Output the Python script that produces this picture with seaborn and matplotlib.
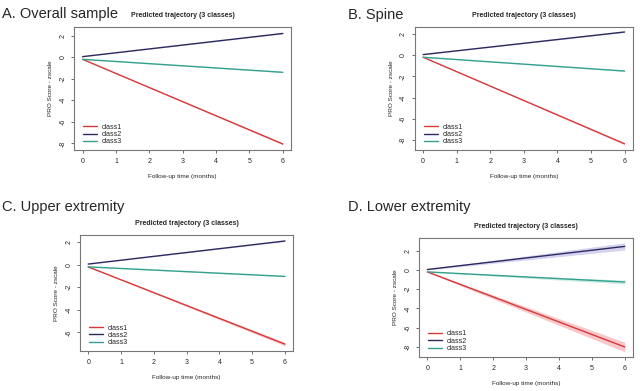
import numpy as np
import pandas as pd
import matplotlib
matplotlib.use("Agg")
import matplotlib.pyplot as plt
import seaborn as sns

# data (predicted linear trajectories, months 0 and 6)
months = [0, 6]
classes = ["class1", "class2", "class3"]
panels = ["A. Overall sample", "B. Spine", "C. Upper extremity", "D. Lower extremity"]

overall = {"class1": [-0.2, -8.05], "class2": [0.05, 2.2], "class3": [-0.2, -1.4]}
spine = {"class1": [-0.2, -8.35], "class2": [0.05, 2.18], "class3": [-0.2, -1.5]}
upper = {"class1": [-0.2, -7.03], "class2": [0.05, 2.09], "class3": [-0.2, -1.04]}
lower = {"class1": [-0.2, -8.0], "class2": [0.05, 2.45], "class3": [-0.2, -1.25]}

# half width of the confidence band at 0 and 6 months
overall_ci = {"class1": [0.02, 0.08], "class2": [0.02, 0.05], "class3": [0.02, 0.04]}
spine_ci = {"class1": [0.02, 0.08], "class2": [0.02, 0.05], "class3": [0.02, 0.04]}
upper_ci = {"class1": [0.02, 0.15], "class2": [0.02, 0.05], "class3": [0.02, 0.04]}
lower_ci = {"class1": [0.05, 0.5], "class2": [0.05, 0.38], "class3": [0.03, 0.2]}

ylims = [(-8.62, 2.8), (-8.95, 2.65), (-7.65, 2.62), (-9.04, 3.31)]
yticks = [[-8, -6, -4, -2, 0, 2], [-8, -6, -4, -2, 0, 2], [-6, -4, -2, 0, 2], [-8, -6, -4, -2, 0, 2]]

palette = {"class1": "#d8383a", "class2": "#2c2a5e", "class3": "#34a08e"}
band = {"class1": "#f4a3a6", "class2": "#b9b7e6", "class3": "#a8e0d3"}

sns.set_style("white")
plt.rcParams["font.family"] = ["Liberation Sans", "DejaVu Sans"]
plt.rcParams["axes.unicode_minus"] = False

fig = plt.figure(figsize=(6.4, 3.91), dpi=100)
boxes = [[0.116, 0.616, 0.339, 0.315], [0.648, 0.616, 0.341, 0.315],
         [0.125, 0.102, 0.333, 0.297], [0.655, 0.087, 0.334, 0.304]]
label_pos = [(0.003, 0.982), (0.544, 0.979), (0.003, 0.488), (0.544, 0.488)]

for i, (vals, ci) in enumerate(zip([overall, spine, upper, lower],
                                    [overall_ci, spine_ci, upper_ci, lower_ci])):
    ax = fig.add_axes(boxes[i])
    df = pd.DataFrame([{"month": m, "score": vals[c][k], "cls": c}
                       for c in classes for k, m in enumerate(months)])
    for c in classes:
        lo = np.array(vals[c]) - np.array(ci[c])
        hi = np.array(vals[c]) + np.array(ci[c])
        ax.fill_between(months, lo, hi, color=band[c], alpha=0.6, lw=0)
    sns.lineplot(data=df, x="month", y="score", hue="cls", palette=palette,
                 linewidth=1.0, ax=ax)
    ax.set_xlim(-0.25, 6.25)
    ax.set_ylim(*ylims[i])
    ax.set_xticks(range(7))
    ax.set_yticks(yticks[i])
    ax.set_yticklabels([str(t) for t in yticks[i]], rotation=90, va="center")
    ax.tick_params(labelsize=5, length=2.5, width=0.6, color="#555555",
                   direction="out", bottom=True, left=True, pad=3)
    for s in ax.spines.values():
        s.set_color("#777777")
        s.set_linewidth(0.8)
    ax.set_xlabel("Follow-up time (months)", fontsize=4.6, labelpad=6.5)
    ax.set_ylabel("PRO Score - zscale", fontsize=4.6, labelpad=4.5)
    ax.set_title("Predicted trajectory (3 classes)", fontsize=5, fontweight="bold", pad=7)
    ax.legend(loc="lower left", bbox_to_anchor=(0.02, 0.0), frameon=False,
              fontsize=5, handlelength=2.0, handletextpad=0.7,
              labelspacing=0.05, borderpad=0.2)
    fig.text(*label_pos[i], panels[i], fontsize=10.5, ha="left", va="top")

fig.savefig("out.png", dpi=100)
